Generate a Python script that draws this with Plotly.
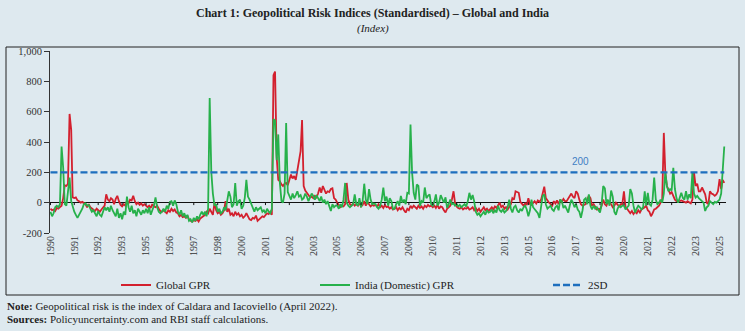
import plotly.graph_objects as go
import pandas as pd

# ---------------- data ----------------
start_month = "1990-01-01"
tick_step = 15          # one x label every 15 months

global_gpr = [
    # 1990
    -40, -50, -45, -55, -35, -40, -30, -20, 30, 115, 110, 125,
    # 1991
    585, 480, 35, 30, 35, 15, 10, 0, 5, -5, -10, -30,
    # 1992
    -10, -30, -40, -45, -55, -40, -50, -60, -45, -30, -20, 55,
    # 1993
    20, 10, 30, 20, -10, 25, 45, 10, -15, -25, -10, -20,
    # 1994
    10, -5, 20, 15, 45, 10, -10, 0, -15, -5, -20, -10,
    # 1995
    -20, -30, -20, -35, -10, -25, -30, -20, -40, -55, -60, -50,
    # 1996
    -60, -70, -50, -60, -40, -55, -45, -65, -70, -90, -80, -95,
    # 1997
    -90, -100, -85, -110, -120, -125, -115, -120, -110, -125, -105, -95,
    # 1998
    -90, -80, -60, -70, -40, -60, -80, 0, -50, -70, -60, -80,
    # 1999
    -70, -50, 10, -60, -40, -80, -70, -90, -60, -80, -70, -90,
    # 2000
    -80, -100, -90, -70, -95, -110, -115, -100, -105, -85, -120, -110,
    # 2001
    -100, -90, -95, -80, -70, -75, -60, -80, 840, 865, 300, 150,
    # 2002
    140, 120, 110, 125, 130, 115, 150, 185, 160, 175, 150, 210,
    # 2003
    260, 340, 545, 110, 80, 60, 50, 35, 40, 30, 45, 35,
    # 2004
    60, 100, 65, 110, 80, 60, 75, 70, 90, 95, 30, 20,
    # 2005
    0, -15, -30, -20, -25, -10, 130, 20, -10, -20, -5, -20,
    # 2006
    -10, -20, 0, -25, -15, 10, -20, 5, -10, -25, -15, -20,
    # 2007
    -15, -25, -10, -30, -20, -35, -15, -30, -25, -40, -30, -45,
    # 2008
    -40, -30, -50, -35, -45, -30, -50, -65, -40, -50, -20, -35,
    # 2009
    -20, -30, -40, -20, -35, -25, -40, -20, -30, -15, -25, -20,
    # 2010
    -30, -20, -35, -15, -40, -25, -30, -50, -65, -40, -30, -20,
    # 2011
    20, 75, 0, -25, -35, -40, -30, -45, -35, -40, -30, -45,
    # 2012
    -40, -30, -50, -35, -55, -40, -60, -45, -30, -50, -40, -55,
    # 2013
    -40, -30, -45, -25, -35, -20, 0, -30, -20, -40, -30, -45,
    # 2014
    -30, -10, 30, 20, 75, 70, 65, 5, -10, -20, -5, -15,
    # 2015
    30, -10, -15, 0, 10, -5, 15, 5, 20, 60, 105, 30,
    # 2016
    10, 0, -10, -20, 10, -5, 15, -10, 20, 5, 25, 10,
    # 2017
    10, 25, 45, 60, 40, 30, 75, 60, 20, -10, -20, -15,
    # 2018
    -10, 20, 45, 30, -20, -10, -30, -45, -40, -45, -20, 20,
    # 2019
    -10, -20, 10, 0, -10, -30, -20, 0, -15, -25, -10, -10,
    # 2020
    75, -30, -40, -60, -70, -55, -75, -60, -70, -50, -65, -45,
    # 2021
    -40, -30, -20, -50, -60, -90, -70, -45, -40, -33, -20, 0,
    # 2022
    20, 460, 200, 110, 80, 60, 70, 40, 20, 10, 10, 10,
    # 2023
    15, 10, 5, 0, 10, 0, -5, 20, 200, 110, 125, 75,
    # 2024
    75, 100, 80, 55, 0, -10, 75, 60, 55, 45, 55, 75,
    # 2025
    155, 90, 150, 130,
]

india_gpr = [
    # 1990
    -60, -90, -70, -30, -20, -30, -10, 370, 230, -10, -20, 60,
    # 1991
    165, 10, -30, -60, -80, -100, -80, -60, -40, -10, -5, -20,
    # 1992
    -15, -40, -60, -50, -70, -90, -55, -80, -90, -60, -30, -50,
    # 1993
    -30, -60, -20, -50, -70, -90, -40, -100, -70, -110, -60, -80,
    # 1994
    40, -30, -60, -20, -70, -50, -90, -40, -60, -80, -50, -70,
    # 1995
    -40, -70, -30, -80, -50, -20, 35, -30, -60, -70, -60, -40,
    # 1996
    -60, -20, -40, 5, 10, -20, 15, -10, -60, -80, -50, -90,
    # 1997
    -70, -100, -80, -120, -110, -130, -100, -120, -90, -110, -80, -60,
    # 1998
    -80, -60, -90, -40, 690, 200, 60, -20, -10, -60, -40, -70,
    # 1999
    -60, -30, -50, 20, 75, 40, -30, -10, 130, -20, 10, 20,
    # 2000
    -40, -20, 30, 150, 40, 20, -10, -40, -60, -30, -50, -40,
    # 2001
    -30, -60, -50, -70, -40, -60, -70, -40, 550, 540, 280, 450,
    # 2002
    130, 10, 0, 60, 525, 70, 40, 20, 60, 30, 50, 75,
    # 2003
    40, 50, 20, 30, 60, 40, 10, 30, 60, 45, 20, 50,
    # 2004
    30, 10, 40, 0, 20, -10, 10, -20, -55, -10, -30, -20,
    # 2005
    -20, -40, -10, -30, 20, 130, 0, -20, -30, -20, -10, 55,
    # 2006
    -10, -20, 30, -30, 10, 125, 20, -10, 90, 20, -10, -5,
    # 2007
    -10, -30, -40, -20, 20, 100, 10, 40, -20, 30, 10, -40,
    # 2008
    -40, -10, 10, -20, 45, 0, 20, -10, 65, 60, 515, 200,
    # 2009
    65, 20, 120, 110, -20, 10, 0, 100, 30, 45, 55, -10,
    # 2010
    -20, 10, 55, -20, 0, 50, 20, 0, 35, -35, -10, 20,
    # 2011
    -10, -5, -20, -10, -25, -15, -30, -20, -10, -25, 10, 65,
    # 2012
    20, 50, 10, -60, -80, -70, -90, -75, -60, -80, -50, -65,
    # 2013
    -60, -45, -70, -50, -65, -20, -50, -60, -45, -65, -55, -30,
    # 2014
    20, -40, -65, -30, -20, -50, -65, -40, -55, -30, -20, -45,
    # 2015
    -90, -50, 20, -30, -45, -60, -70, -100, -20, 45, 55, -10,
    # 2016
    -40, -30, -20, -45, -55, -30, -20, -50, 20, 10, -35, -20,
    # 2017
    -40, -65, -20, 20, 0, -30, -10, -45, -60, -100, -50, 20,
    # 2018
    30, -10, 55, -20, -45, -20, -40, -30, -50, -65, -10, 110,
    # 2019
    95, -10, 20, -20, 80, 40, -60, -80, -40, -20, -30, -20,
    # 2020
    -20, -45, -30, -20, 90, 60, -20, -65, -40, -20, -30, -45,
    # 2021
    -30, 75, -20, 65, -10, -20, 20, 165, 20, -10, 0, 20,
    # 2022
    0, 60, 200, 110, 75, 90, 80, 230, 90, 30, 0, 40,
    # 2023
    65, 30, 20, 75, 20, 55, 30, 200, 60, 33, 45, 30,
    # 2024
    20, 10, 0, -55, -30, -20, 10, 0, -10, 5, 0, 10,
    # 2025
    20, 60, 200, 370,
]

two_sd = 200                      # 2 standard-deviation threshold
two_sd_label_month = 333          # where the "200" label sits

series_names = ["Global GPR", "India (Domestic) GPR", "2SD"]
y_ticks = [-200, 0, 200, 400, 600, 800, 1000]
y_tick_labels = ["-200", "0", "200", "400", "600", "800", "1,000"]

title_text = "Chart 1: Geopolitical Risk Indices (Standardised) \u2013 Global and India"
subtitle_text = "(Index)"
note_text = "<b>Note:</b> Geopolitical risk is the index of Caldara and Iacoviello (April 2022)."
source_text = "<b>Sources:</b> Policyuncertainty.com and RBI staff calculations."

# ---------------- derived ----------------
months = pd.date_range(start_month, periods=len(global_gpr), freq="MS")
tick_dates = months[::tick_step]
tick_labels = [str(d.year) for d in tick_dates]

# ---------------- styling / layout ----------------
W, H = 745, 331
L, R, T, B = 50, 19, 51, 98
PW, PH = W - L - R, H - T - B
BG = "#dee9ef"
RED, GREEN, BLUE = "#d3202e", "#27b14b", "#1d6fbe"
SERIF = "Liberation Serif, Times New Roman, serif"


def px(x):
    return (x - L) / PW


def py(y):
    return (H - B - y) / PH


fig = go.Figure()
fig.add_trace(go.Scatter(x=months, y=global_gpr, mode="lines", name=series_names[0],
                         line=dict(color=RED, width=1.8), legend="legend"))
fig.add_trace(go.Scatter(x=months, y=india_gpr, mode="lines", name=series_names[1],
                         line=dict(color=GREEN, width=1.8), legend="legend2"))
fig.add_trace(go.Scatter(x=months, y=[two_sd] * len(months), mode="lines", name=series_names[2],
                         line=dict(color=BLUE, width=2.4, dash="7px,3px"), legend="legend3"))

x_lo = months[0] - pd.Timedelta(days=9)
x_hi = months[-1] + pd.Timedelta(days=33)

shapes = []
for d in tick_dates:
    shapes.append(dict(type="line", xref="x", yref="y", x0=d, x1=d, y0=0, y1=-16,
                       line=dict(color="#111", width=1)))
# outer frame
shapes.append(dict(type="rect", xref="paper", yref="paper",
                   x0=px(6), x1=px(739), y0=py(295), y1=py(47),
                   line=dict(color="#222", width=1), fillcolor="rgba(0,0,0,0)", layer="below"))

annotations = [
    dict(text=f"<b>{title_text}</b>", xref="paper", yref="paper", x=px(372.5), y=py(13),
         xanchor="center", yanchor="middle", showarrow=False,
         font=dict(family=SERIF, size=12, color="#222")),
    dict(text=f"<i>{subtitle_text}</i>", xref="paper", yref="paper", x=px(372.5), y=py(29),
         xanchor="center", yanchor="middle", showarrow=False,
         font=dict(family=SERIF, size=11, color="#222")),
    dict(text=note_text, xref="paper", yref="paper", x=px(5), y=py(306),
         xanchor="left", yanchor="middle", showarrow=False, align="left",
         font=dict(family=SERIF, size=11, color="#222")),
    dict(text=source_text, xref="paper", yref="paper", x=px(5), y=py(319),
         xanchor="left", yanchor="middle", showarrow=False, align="left",
         font=dict(family=SERIF, size=11, color="#222")),
    dict(text=str(two_sd), xref="x", yref="y", x=months[two_sd_label_month], y=two_sd,
         xanchor="center", yanchor="bottom", yshift=3, showarrow=False,
         font=dict(family="Liberation Sans, Arial, sans-serif", size=10, color="#3f7fc4")),
]

legend_common = dict(orientation="h", yanchor="middle", y=py(285), xanchor="left",
                     bgcolor="rgba(0,0,0,0)", borderwidth=0,
                     font=dict(family=SERIF, size=11, color="#222"))

fig.update_layout(
    width=W, height=H,
    margin=dict(l=L, r=R, t=T, b=B, pad=0),
    paper_bgcolor=BG, plot_bgcolor=BG,
    showlegend=True,
    legend=dict(legend_common, x=px(116)),
    legend2=dict(legend_common, x=px(315)),
    legend3=dict(legend_common, x=px(548)),
    xaxis=dict(type="date", range=[x_lo, x_hi], tickvals=list(tick_dates), ticktext=tick_labels,
               tickangle=-90, ticks="", showline=False, showgrid=False, zeroline=False,
               tickfont=dict(family=SERIF, size=10, color="#333")),
    yaxis=dict(range=[-200, 1000], tickvals=y_ticks, ticktext=y_tick_labels,
               showline=True, linecolor="#333", linewidth=1, ticks="outside", ticklen=5,
               tickcolor="#333", showgrid=False, zeroline=True, zerolinecolor="#111",
               zerolinewidth=1, tickfont=dict(family=SERIF, size=10.5, color="#333")),
    shapes=shapes,
    annotations=annotations,
)

fig.write_html("out.html")
